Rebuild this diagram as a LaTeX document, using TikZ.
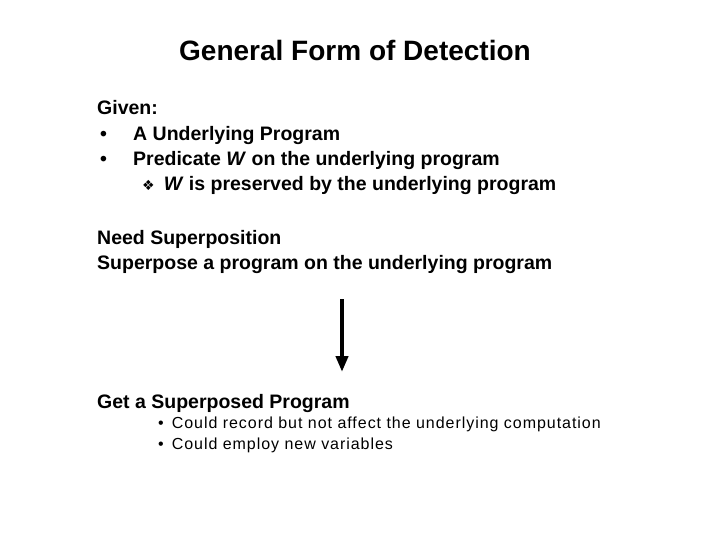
\documentclass[tikz,border=0pt]{standalone}
\usepackage{fontspec}
\usetikzlibrary{arrows.meta}
\setmainfont{Liberation Sans}
\newfontfamily\djv{DejaVu Sans}
\begin{document}
\begin{tikzpicture}[x=1pt,y=-1pt,
  txt/.style={anchor=base west,inner sep=0pt,font=\fontsize{19.5}{22}\selectfont\bfseries},
  sub/.style={anchor=base west,inner sep=0pt,font=\fontsize{16}{18}\selectfont\addfontfeatures{LetterSpace=6}}]
\useasboundingbox (0,0) rectangle (720,540);
\node[inner sep=0pt,anchor=base,font=\fontsize{28}{32}\selectfont\bfseries] (title) at (355,61) {General Form of Detection};
\node[txt] (g) at (97,115) {Given:};
\node[txt] (b1) at (97,141) {\makebox[36pt][l]{\hspace{3pt}•}A Underlying Program};
\node[txt] (b2) at (97,166) {\makebox[36pt][l]{\hspace{3pt}•}Predicate \textit{W} on the underlying program};
\node[txt] (b3) at (142,191) {{\djv\fontsize{14}{16}\selectfont ❖}\hspace{9pt}\textit{W} is preserved by the underlying program};
\node[txt] (n1) at (97,244) {Need Superposition};
\node[txt] (n2) at (97,269) {Superpose a program on the underlying program};
\coordinate (a1) at (342,299);
\coordinate (a2) at (342,372);
\draw[line width=4pt,-{Triangle[length=16pt,width=12pt]}] (a1) -- (a2);
\node[txt] (s) at (97,408) {Get a Superposed Program};
\node[sub] (s1) at (158,428) {•\hspace{8pt}Could record but not affect the underlying computation};
\node[sub] (s2) at (158,449) {•\hspace{8pt}Could employ new variables};
\end{tikzpicture}
\end{document}
